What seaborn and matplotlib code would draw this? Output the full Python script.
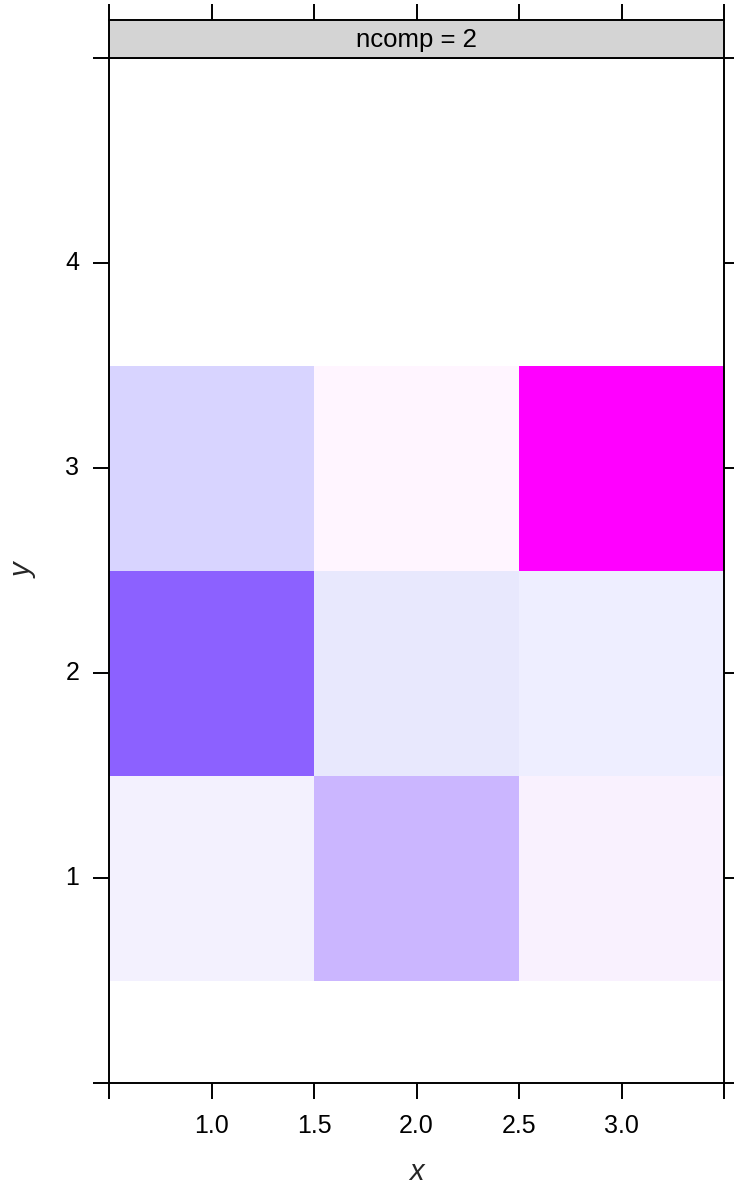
import numpy as np
import pandas as pd
import seaborn as sns
import matplotlib
matplotlib.use("Agg")
import matplotlib.pyplot as plt
from matplotlib.colors import LinearSegmentedColormap

# ---- data ----
x_vals = [1, 2, 3]
y_vals = [1, 2, 3]
z_y1 = [-0.07, -0.45, 0.10]
z_y2 = [-0.80, -0.16, -0.10]
z_y3 = [-0.27, 0.05, 1.00]
strip_label = "ncomp = 2"
x_ticks = [0.5, 1.0, 1.5, 2.0, 2.5, 3.0, 3.5]
x_ticklabels = ["", "1.0", "1.5", "2.0", "2.5", "3.0", ""]
y_ticks = [0, 1, 2, 3, 4, 5]
y_ticklabels = ["", "1", "2", "3", "4", ""]
x_range = (0.5, 3.5)
y_range = (0.0, 5.0)

# colour scale anchors (value, colour)
anchor_vals = [-1.0, -0.80, -0.45, -0.27, -0.16, -0.10, -0.07, 0.0, 0.05, 0.10, 1.0]
anchor_cols = ["#7648FF", "#8C61FF", "#CBB6FF", "#D8D4FF", "#E8E8FD", "#EEEEFF",
               "#F2F0FE", "#FFFFFF", "#FFF5FF", "#F9F1FE", "#FF00FF"]
vmin, vmax = -1.0, 1.0

df = pd.DataFrame([z_y1, z_y2, z_y3], index=y_vals, columns=x_vals)

sns.set_style("white")
plt.rcParams['font.family'] = ['Liberation Sans', 'DejaVu Sans']

cmap = LinearSegmentedColormap.from_list(
    "lv", [((v - vmin) / (vmax - vmin), c) for v, c in zip(anchor_vals, anchor_cols)])

W, H = 734, 1187
fig = plt.figure(figsize=(W / 100, H / 100), dpi=100)
L, R, T, B = 109, 724, 58, 1083
ST = 20
ax = fig.add_axes([L / W, (H - B) / H, (R - L) / W, (B - T) / H])
sax = fig.add_axes([L / W, (H - T) / H, (R - L) / W, (T - ST) / H])

sns.heatmap(df, ax=ax, cmap=cmap, vmin=vmin, vmax=vmax, cbar=False,
            linewidths=0, square=False)

# heatmap coords: cell centre for value v is at v - x0 + 0.5
x0, y0 = x_vals[0], y_vals[0]
fx = lambda v: v - x0 + 0.5
fy = lambda v: v - y0 + 0.5
ax.set_xlim(fx(x_range[0]), fx(x_range[1]))
ax.set_ylim(fy(y_range[0]), fy(y_range[1]))
ax.set_xticks([fx(v) for v in x_ticks])
ax.set_xticklabels(x_ticklabels, rotation=0)
ax.set_yticks([fy(v) for v in y_ticks])
ax.set_yticklabels(y_ticklabels, rotation=0)
lw = 1.4
ax.tick_params(axis="both", direction="out", length=11.5, width=lw, color="black",
               labelsize=18, labelcolor="black")
ax.tick_params(axis="x", pad=11, bottom=True, top=False)
ax.tick_params(axis="y", pad=10, left=True, right=True)
for s in ax.spines.values():
    s.set_visible(True)
    s.set_color("black")
    s.set_linewidth(lw)
ax.set_xlabel("x", fontsize=21, style="italic", labelpad=14)
ax.set_ylabel("y", fontsize=21, style="italic", labelpad=20)

# strip
sax.set_facecolor("#D4D4D4")
sax.set_xlim(ax.get_xlim())
sax.set_ylim(0, 1)
sax.set_xticks([fx(v) for v in x_ticks])
sax.set_xticklabels([])
sax.set_yticks([])
sax.tick_params(axis="x", direction="out", length=11.5, width=lw, color="black",
                top=True, bottom=False, labeltop=False, labelbottom=False)
for s in sax.spines.values():
    s.set_visible(True)
    s.set_color("black")
    s.set_linewidth(lw)
sax.text(0.5, 0.47, strip_label, transform=sax.transAxes, ha="center", va="center",
         fontsize=18.5, color="black")

fig.savefig("out.png", dpi=100)
